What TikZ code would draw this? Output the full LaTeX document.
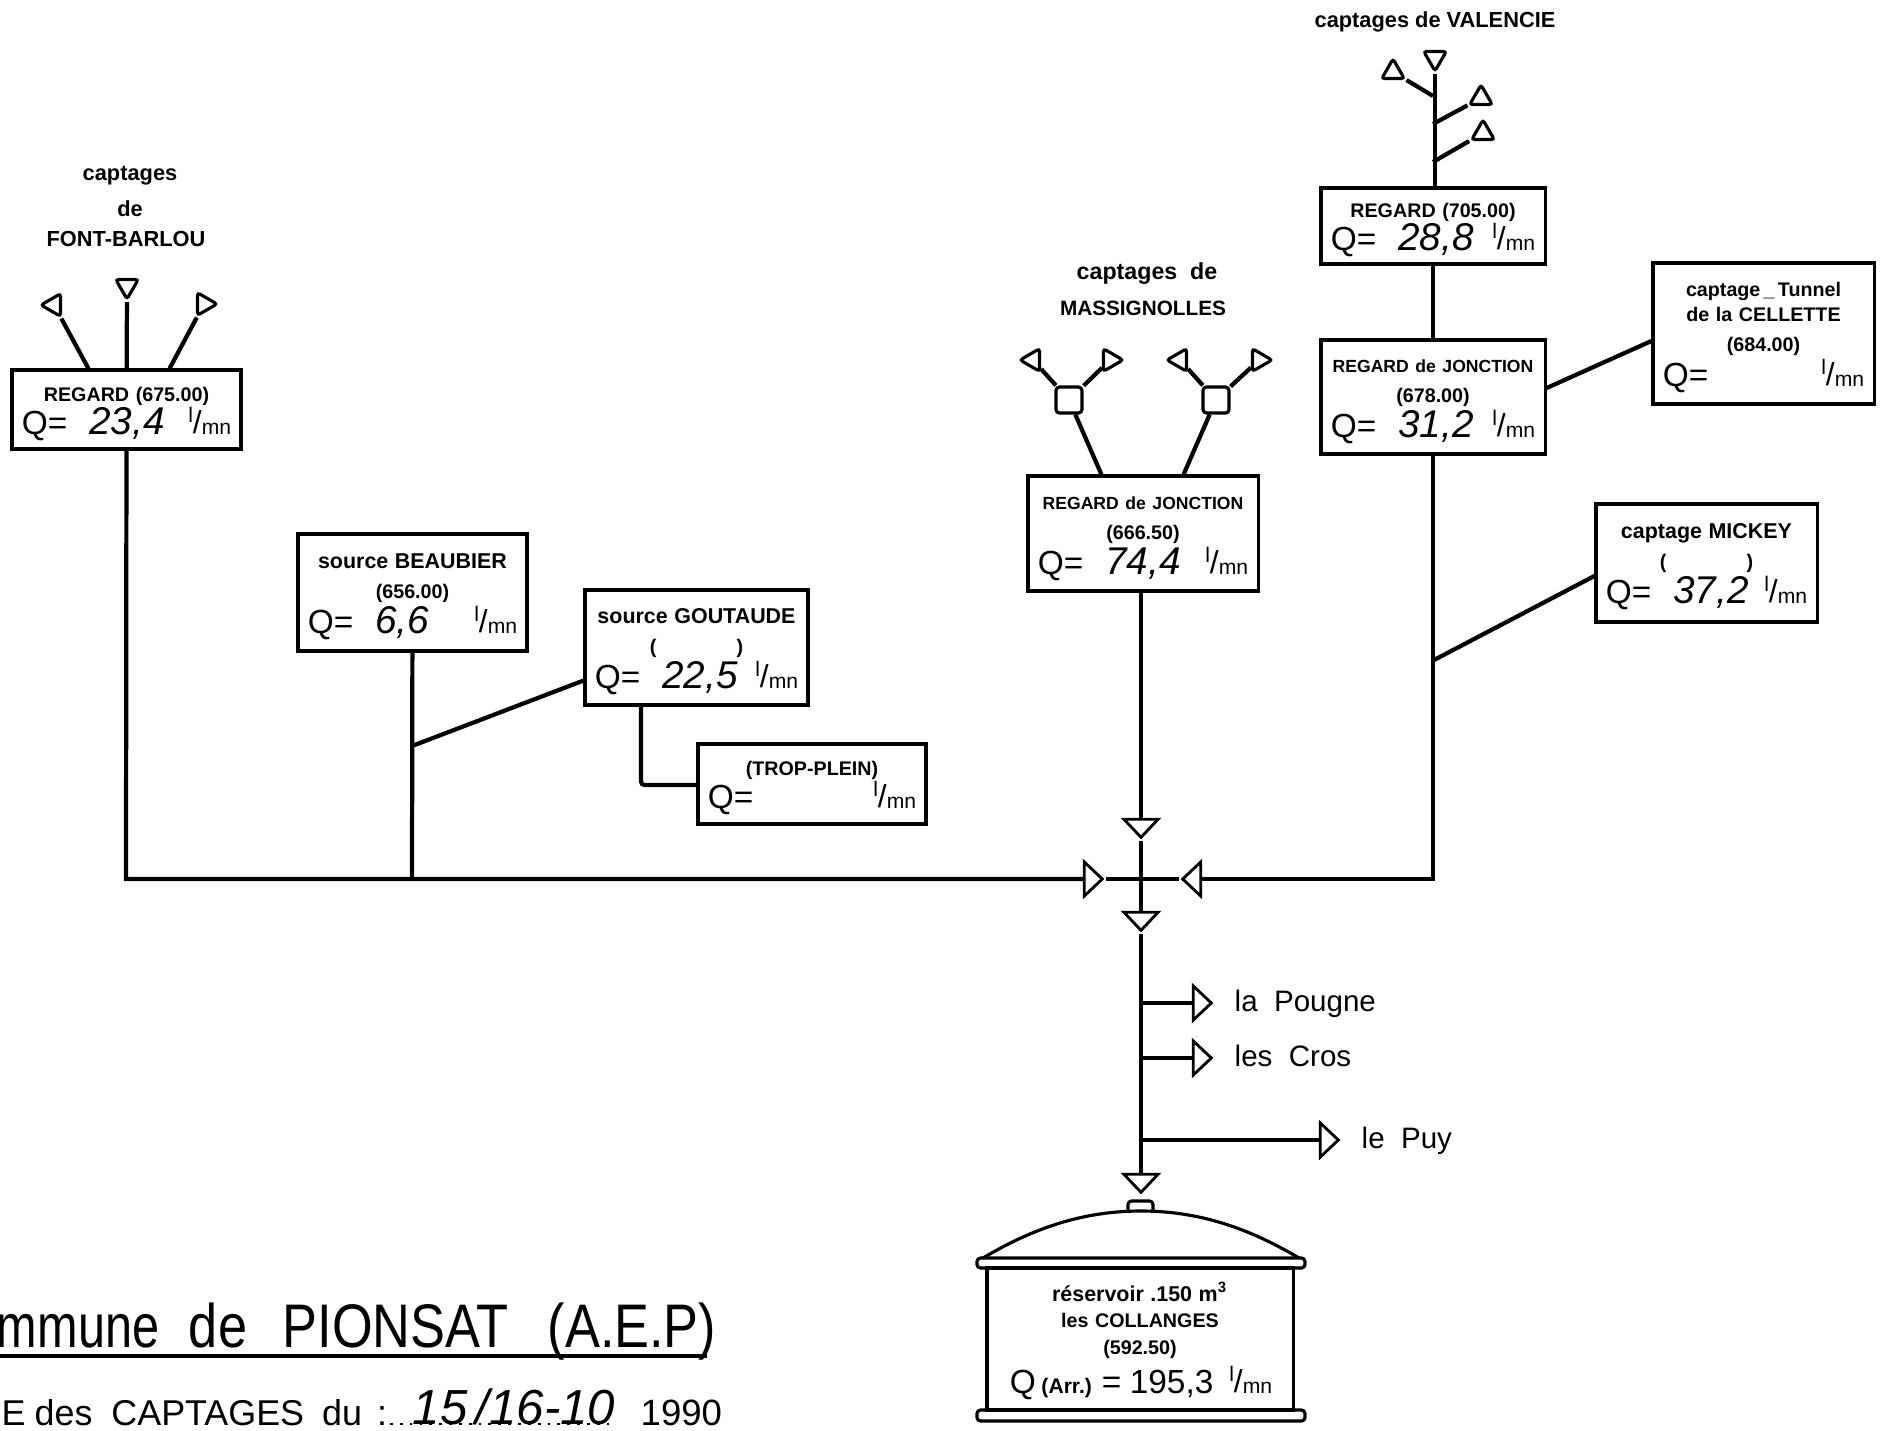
\documentclass[tikz,border=0pt]{standalone}
\usepackage{fontspec}
\setmainfont{Liberation Sans}
\usetikzlibrary{shapes.geometric}
\newcommand{\smallfont}{\fontsize{5.6}{8.6}\selectfont\bfseries}
\newcommand{\widefont}{\fontsize{6.1}{8.6}\selectfont\bfseries}
\newcommand{\narrowfont}{\fontsize{5}{8.6}\selectfont\bfseries}
\newcommand{\qfont}{\fontsize{9.5}{11}\selectfont\mdseries}
\newcommand{\valfont}{\fontsize{11}{11}\selectfont\mdseries\itshape}
% the unit, as written in every box
\newcommand{\lmn}{{\fontsize{6}{6}\selectfont\mdseries\raisebox{1.1ex}{l}\raisebox{.1ex}{\fontsize{9}{9}\selectfont/}mn}}
\newcommand{\qrow}[1]{\makebox[\hsize]{\qfont Q=\hspace{.22cm}{\valfont #1}\hfill\lmn}}
\tikzset{
  pipe/.style={line width=1.2pt,black},
  gaugebox/.style 2 args={draw,line width=.9pt,inner sep=0pt,align=center,
    minimum width=#1cm,minimum height=#2cm,text width={(#1-.2)*1cm},font=\smallfont,
    execute at begin node={\rule{0pt}{6.5pt}}},
  srctri/.style={draw,line width=.9pt,regular polygon,regular polygon sides=3,
    minimum size=.26cm,inner sep=0pt,rounded corners=.8pt,shape border rotate=#1},
  valve/.style={draw,line width=.8pt,isosceles triangle,isosceles triangle stretches,
    minimum width=.34cm,minimum height=.18cm,inner sep=0pt,anchor=apex,shape border rotate=#1},
  title/.style={font=\fontsize{6.2}{6.2}\selectfont\bfseries,inner sep=0pt},
  place/.style={font=\fontsize{8.4}{8.4}\selectfont,anchor=base west,inner sep=0pt},
}
\begin{document}
\begin{tikzpicture}[x=0.01cm,y=-0.01cm]
  \useasboundingbox (0,0) rectangle (1882,1430);
  %The boxes:
  \node[gaugebox={2.29}{.79}] (fbbox) at (126.5,409.5) {REGARD (675.00)\\[-.5pt]\qrow{23,4}};
  \node[gaugebox={2.29}{1.17}] (beaubox) at (412.5,592.5) {{\widefont source BEAUBIER}\\(656.00)\\\qrow{6,6}};
  \node[gaugebox={2.23}{1.15}] (goutbox) at (696.5,647.5) {{\widefont source GOUTAUDE}\\(\hspace{.8cm})\\\qrow{22,5}};
  \node[gaugebox={2.28}{.80}] (tropbox) at (812,784) {(TROP-PLEIN)\\[-.5pt]\qrow{\ }};
  \node[gaugebox={2.30}{1.15}] (massbox) at (1143,533.5) {{\narrowfont REGARD de JONCTION}\\(666.50)\\\qrow{74,4}};
  \node[gaugebox={2.24}{.76}] (valbox) at (1433,226) {REGARD (705.00)\\[-.5pt]\qrow{28,8}};
  \node[gaugebox={2.24}{1.14}] (joncbox) at (1433,397) {{\narrowfont REGARD de JONCTION}\\(678.00)\\\qrow{31,2}};
  \node[gaugebox={2.21}{1.41}] (cellbox) at (1763.5,333.5) {captage\,\_\,Tunnel\\[-1.5pt]de la CELLETTE\\(684.00)\\\qrow{\ }};
  \node[gaugebox={2.21}{1.18}] (mickbox) at (1706.5,563) {{\widefont captage MICKEY}\\(\hspace{.8cm})\\\qrow{37,2}};
  %The captages of Font-Barlou:
  \node[title] (fbtitlea) at (130,176) {captages};
  \node[title] (fbtitleb) at (130,209) {de};
  \node[title] (fbtitlec) at (126,239) {FONT-BARLOU};
  \node[srctri=90] (fba) at (54,305) {};
  \node[srctri=180] (fbb) at (127,286) {};
  \node[srctri=-90] (fbc) at (204,304) {};
  \draw[pipe] (fba) -- ([xshift=.78cm]fbbox.north west);
  \draw[pipe] (fbb) -- (fbbox);
  \draw[pipe] (fbc) -- ([xshift=-.73cm]fbbox.north east);
  %The captages of Massignolles, the two squares first:
  \node[title,font=\fontsize{6.6}{6.6}\selectfont\bfseries] (masstitlea) at (1147,274) {captages\ \ de};
  \node[title,font=\fontsize{5.9}{5.9}\selectfont\bfseries] (masstitleb) at (1143,308) {MASSIGNOLLES};
  \node[draw,line width=.9pt,minimum size=.26cm,inner sep=0pt,rounded corners=1pt] (massl) at (1069,400) {};
  \node[draw,line width=.9pt,minimum size=.26cm,inner sep=0pt,rounded corners=1pt] (massr) at (1216,400) {};
  \node[srctri=90] (massa) at (1033,360) {};
  \node[srctri=-90] (massb) at (1110,360) {};
  \node[srctri=90] (massc) at (1180,360) {};
  \node[srctri=-90] (massd) at (1259,360) {};
  \draw[pipe] (massa) -- (massl);
  \draw[pipe] (massb) -- (massl);
  \draw[pipe] (massc) -- (massr);
  \draw[pipe] (massd) -- (massr);
  \draw[pipe] (massl) -- ([xshift=.75cm]massbox.north west);
  \draw[pipe] (massr) -- ([xshift=-.76cm]massbox.north east);
  %The captages of Valencie with the trunk down to the joint:
  \node[title] (valtitle) at (1435,22) {captages de VALENCIE};
  \node[srctri=180] (vala) at (1435,58) {};
  \node[srctri=0] (valb) at (1393,72) {};
  \node[srctri=0] (valc) at (1481,98) {};
  \node[srctri=0] (vald) at (1483,133) {};
  \coordinate (valjb) at (1433,96);
  \coordinate (valjc) at (1433,124);
  \coordinate (valjd) at (1433,162);
  \draw[pipe] (vala) -- (valbox.north -| vala);
  \draw[pipe] (valb) -- (valjb);
  \draw[pipe] (valc) -- (valjc);
  \draw[pipe] (vald) -- (valjd);
  \draw[pipe] (valbox) -- (joncbox);
  %The side branches:
  \coordinate (beauj) at (412,746);
  \coordinate (mickj) at (1434,660);
  \coordinate (tropc) at (641,785);
  \draw[pipe] ([yshift=.09cm]joncbox.east) -- ([yshift=-.075cm]cellbox.west);
  \draw[pipe] (mickj) -- ([yshift=-.13cm]mickbox.west);
  \draw[pipe] (beauj) -- ([yshift=.26cm]goutbox.south west);
  \draw[pipe,rounded corners=1pt] (goutbox.south -| tropc) -- (tropc) -- (tropbox.west |- tropc);
  %The cross with its four valves:
  \node[valve=-90] (crossn) at (1141,841) {};
  \node[valve=0] (crossw) at (1106,879) {};
  \node[valve=180] (crosse) at (1179,879) {};
  \node[valve=-90] (crosss) at (1141,934) {};
  \coordinate (fbcorner) at (126,879);
  \coordinate (beaucorner) at (412,879);
  \coordinate (joncorner) at (1433,879);
  \draw[pipe] (fbbox) -- (fbcorner) -- (crossw);
  \draw[pipe] (beaubox) -- (beaucorner);
  \draw[pipe] (joncbox) -- (joncorner) -- (crosse);
  \draw[pipe] (massbox.south -| crossn.apex) -- (crossn);
  \draw[pipe] (crossn.apex) -- (crosss);
  \draw[pipe] (crossw.apex) -- (crosse.apex);
  %The three villages:
  \node[valve=-90] (tankin) at (1141,1196) {};
  \draw[pipe] (crosss.apex) -- (tankin);
  \foreach \name/\ypos/\xpos/\where in {pougne/1003/1215/la\ \ Pougne,cros/1058/1215/les\ \ Cros,puy/1140/1342/le\ \ Puy}{
    \coordinate (\name j) at (1141,\ypos);
    \node[valve=0] (\name v) at (\xpos,\ypos) {};
    \draw[pipe] (\name j) -- (\name v);
    \node[place] (\name t) at (\xpos+19,\ypos+8) {\where};
  }
  %The tank, drawn by hand:
  \draw[line width=.9pt,rounded corners=1pt] (977,1258) rectangle (1305,1268);
  \draw[line width=.9pt,rounded corners=1pt] (977,1410) rectangle (1305,1421);
  \draw[line width=.9pt,rounded corners=1pt] (1128,1211) -- (1128,1201) -- (1153,1201) -- (1153,1211);
  \draw[line width=.9pt] (983,1258) .. controls (1040,1224) and (1090,1211) .. (1141,1211) .. controls (1192,1211) and (1242,1224) .. (1299,1258);
  \node[gaugebox={3.06}{1.42},execute at begin node={\rule{0pt}{5pt}}] (tankbox) at (1140,1339) {{\widefont r\'eservoir .150 m$^{\mathbf{3}}$}\\[-1pt]les COLLANGES\\[-1pt](592.50)\\[1pt]\makebox[\hsize]{\qfont\hspace{.13cm}Q\,{\fontsize{6}{6}\selectfont\bfseries(Arr.)} = \hspace{.02cm}195,3\hfill\lmn\hspace{.11cm}}};
  %The heading, it runs up to the left edge of the sheet:
  \node[font=\fontsize{17.5}{17.5}\selectfont,anchor=base east,inner sep=0pt] (heading) at (717,1347) {\scalebox{.85}[1]{\scalebox{.93}[1]{mmune}\hspace{.35cm}de\hspace{.42cm}PIONSAT\hspace{.46cm}(A.E.P)}};
  \coordinate (headingl) at (0,1356);
  \coordinate (headingr) at (707,1356);
  \draw[line width=.9pt] (headingl) -- (headingr);
  \node[font=\fontsize{10.2}{10.2}\selectfont,anchor=base west,inner sep=0pt] (datehead) at (1,1425) {E\hspace{.09cm}des\hspace{.19cm}CAPTAGES\hspace{.18cm}du\hspace{.15cm}:};
  \node[font=\fontsize{14}{14}\selectfont\itshape,anchor=base west,inner sep=0pt] (dateval) at (412,1424) {15\,/16-10};
  \node[font=\fontsize{10.4}{10.4}\selectfont,anchor=base west,inner sep=0pt] (dateyear) at (640,1425) {1990};
  \draw[line width=.8pt,dotted] ([xshift=-.22cm]dateval.base west) -- ([xshift=-.03cm]dateval.base east);
\end{tikzpicture}
\end{document}
